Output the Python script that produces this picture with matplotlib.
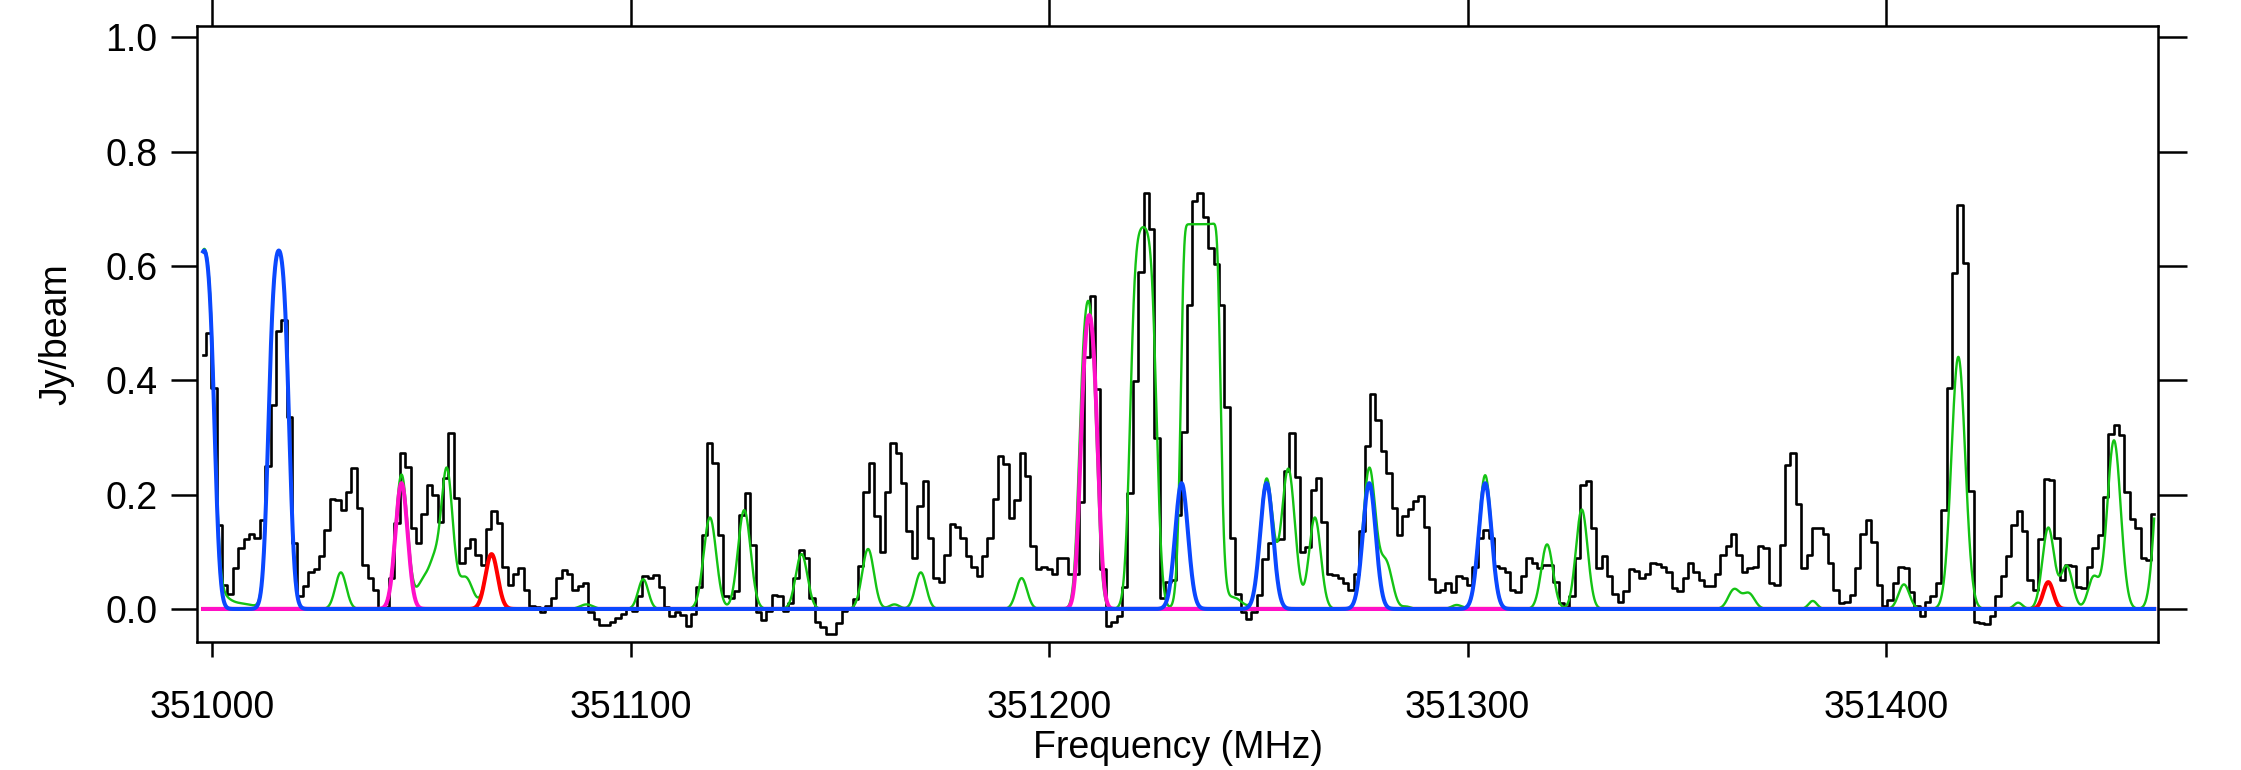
import numpy as np
import matplotlib
matplotlib.use("Agg")
import matplotlib.pyplot as plt

plt.rcParams["font.family"] = ["Liberation Sans", "DejaVu Sans"]

# -----------------------------
# Observed spectrum (one value per channel, Jy/beam)
# -----------------------------
freq_start = 350997.77   # MHz, centre of first channel
chan_width = 1.2882      # MHz

flux = [
    0.444, 0.482, 0.386, 0.147, 0.042, 0.026, 0.071, 0.107, 0.122, 0.131,
    0.125, 0.156, 0.250, 0.357, 0.486, 0.506, 0.336, 0.115, 0.023, 0.040,
    0.064, 0.070, 0.092, 0.138, 0.192, 0.191, 0.173, 0.204, 0.246, 0.177,
    0.077, 0.055, 0.033, 0.000, 0.003, 0.054, 0.150, 0.272, 0.248, 0.141,
    0.115, 0.167, 0.216, 0.199, 0.153, 0.229, 0.308, 0.194, 0.081, 0.107,
    0.122, 0.094, 0.077, 0.140, 0.171, 0.151, 0.074, 0.042, 0.062, 0.071,
    0.034, 0.006, 0.004, -0.006, 0.006, 0.020, 0.055, 0.069, 0.061, 0.033,
    0.040, 0.046, -0.005, -0.018, -0.028, -0.028, -0.022, -0.016, -0.008, 0.000,
    -0.003, 0.022, 0.057, 0.055, 0.059, 0.039, 0.004, -0.013, -0.006, -0.010,
    -0.030, -0.008, 0.039, 0.129, 0.290, 0.256, 0.129, 0.023, 0.019, 0.032,
    0.164, 0.202, 0.112, -0.006, -0.020, -0.003, 0.024, 0.022, -0.003, 0.010,
    0.054, 0.103, 0.090, 0.020, -0.022, -0.031, -0.044, -0.043, -0.025, -0.003,
    0.000, 0.017, 0.075, 0.204, 0.255, 0.162, 0.099, 0.205, 0.290, 0.272,
    0.220, 0.137, 0.090, 0.180, 0.223, 0.125, 0.054, 0.047, 0.094, 0.149,
    0.143, 0.124, 0.092, 0.074, 0.058, 0.092, 0.124, 0.192, 0.268, 0.254,
    0.159, 0.191, 0.272, 0.233, 0.110, 0.070, 0.073, 0.070, 0.061, 0.090,
    0.090, 0.061, 0.061, 0.187, 0.440, 0.548, 0.384, 0.070, -0.030, -0.022,
    -0.013, 0.038, 0.202, 0.399, 0.590, 0.728, 0.665, 0.299, 0.019, 0.048,
    0.050, 0.164, 0.310, 0.532, 0.714, 0.727, 0.686, 0.632, 0.603, 0.532,
    0.353, 0.124, 0.027, -0.005, -0.018, -0.005, 0.024, 0.087, 0.115, 0.120,
    0.122, 0.241, 0.307, 0.231, 0.100, 0.109, 0.208, 0.229, 0.152, 0.062,
    0.059, 0.054, 0.045, 0.034, 0.061, 0.136, 0.285, 0.376, 0.331, 0.276,
    0.238, 0.177, 0.129, 0.162, 0.175, 0.189, 0.198, 0.144, 0.052, 0.030,
    0.034, 0.046, 0.029, 0.057, 0.055, 0.042, 0.074, 0.125, 0.139, 0.124,
    0.075, 0.072, 0.065, 0.034, 0.029, 0.057, 0.089, 0.080, 0.071, 0.077,
    0.077, 0.048, 0.010, 0.004, 0.022, 0.089, 0.217, 0.224, 0.141, 0.071,
    0.093, 0.058, 0.026, 0.012, 0.032, 0.070, 0.066, 0.054, 0.062, 0.081,
    0.079, 0.074, 0.064, 0.036, 0.032, 0.055, 0.081, 0.065, 0.051, 0.040,
    0.040, 0.062, 0.094, 0.110, 0.132, 0.094, 0.065, 0.072, 0.073, 0.111,
    0.107, 0.045, 0.042, 0.112, 0.252, 0.272, 0.183, 0.071, 0.094, 0.142,
    0.142, 0.132, 0.081, 0.034, 0.010, 0.012, 0.024, 0.072, 0.131, 0.156,
    0.118, 0.042, 0.005, 0.016, 0.046, 0.074, 0.072, 0.030, 0.006, -0.012,
    0.012, 0.023, 0.046, 0.174, 0.386, 0.587, 0.707, 0.606, 0.207, -0.022,
    -0.024, -0.026, -0.013, 0.022, 0.057, 0.093, 0.147, 0.171, 0.136, 0.050,
    0.034, 0.122, 0.227, 0.226, 0.124, 0.050, 0.077, 0.076, 0.039, 0.037,
    0.074, 0.106, 0.129, 0.196, 0.306, 0.321, 0.304, 0.204, 0.157, 0.141,
    0.089, 0.086, 0.167,
]

# -----------------------------
# Model lines: centre (MHz), peak (Jy/beam), sigma (MHz), opacity
# -----------------------------
green_f0 = [350998.0, 351015.85, 351002.0, 351007.0, 351030.68, 351045.18,
            351050.5, 351053.0, 351056.0, 351060.5, 351066.7, 351089.4,
            351102.95, 351118.9, 351127.1, 351140.8, 351156.7, 351163.0,
            351169.3, 351193.4, 351209.3, 351222.5, 351236.2, 351244.0,
            351251.96, 351257.14, 351263.5, 351276.5, 351280.5, 351285.4,
            351297.4, 351304.2, 351319.0, 351327.3, 351363.7, 351367.2,
            351382.5, 351404.3, 351417.3, 351431.6, 351438.8, 351443.2,
            351449.6, 351454.5, 351465.8]
green_amp = [0.627, 0.627, 0.020, 0.009, 0.064, 0.235,
             0.050, 0.060, 0.243, 0.055, 0.096, 0.008,
             0.052, 0.160, 0.173, 0.096, 0.105, 0.008,
             0.064, 0.054, 0.539, 0.668, 0.673, 0.020,
             0.227, 0.245, 0.160, 0.245, 0.080, 0.004,
             0.007, 0.234, 0.113, 0.174, 0.034, 0.027,
             0.014, 0.043, 0.441, 0.011, 0.142, 0.075,
             0.055, 0.295, 0.300]
green_sig = [1.53, 1.53, 2.0, 3.0, 1.3, 1.45,
             1.6, 1.2, 1.4, 1.7, 1.45, 1.5,
             1.2, 1.5, 1.5, 1.4, 1.4, 1.2,
             1.3, 1.3, 1.44, 1.68, 1.7, 2.0,
             1.5, 1.6, 1.4, 1.5, 1.5, 1.0,
             1.2, 1.5, 1.4, 1.4, 1.4, 1.4,
             1.0, 1.3, 1.65, 1.0, 1.4, 1.4,
             1.3, 1.6, 1.5]
green_tau = [2.3, 2.3, 0.01, 0.01, 0.01, 0.01,
             0.01, 0.01, 0.01, 0.01, 0.01, 0.01,
             0.01, 0.01, 0.01, 0.01, 0.01, 0.01,
             0.01, 0.01, 1.5, 4.0, 40.0, 0.01,
             0.01, 0.01, 0.01, 0.01, 0.01, 0.01,
             0.01, 0.01, 0.01, 0.01, 0.01, 0.01,
             0.01, 0.01, 0.01, 0.01, 0.01, 0.01,
             0.01, 0.01, 0.01]

red_f0 = [351066.7, 351438.8]
red_amp = [0.096, 0.047]
red_sig = [1.45, 1.2]
red_tau = [0.01, 0.01]

magenta_f0 = [351045.18, 351209.56]
magenta_amp = [0.220, 0.514]
magenta_sig = [1.45, 1.44]
magenta_tau = [0.01, 1.5]

blue_f0 = [350998.0, 351015.85, 351231.64, 351251.96, 351276.5, 351304.2]
blue_amp = [0.627, 0.627, 0.220, 0.220, 0.220, 0.220]
blue_sig = [1.53, 1.53, 1.53, 1.53, 1.53, 1.53]
blue_tau = [2.3, 2.3, 0.01, 0.01, 0.01, 0.01]


def model(f, f0s, amps, sigs, taus):
    out = np.zeros_like(f)
    for f0, a, s, t in zip(f0s, amps, sigs, taus):
        g = np.exp(-0.5 * ((f - f0) / s) ** 2)
        out += a * (1 - np.exp(-t * g)) / (1 - np.exp(-t))
    return out


freqs = freq_start + chan_width * np.arange(len(flux))
fgrid = np.linspace(freqs[0], freqs[-1], 8000)

fig = plt.figure(figsize=(22.41, 7.70), dpi=100)
ax = fig.add_axes([0.08791, 0.16584, 0.87519, 0.80078])

ax.step(freqs, flux, where="mid", color="black", lw=1.9, zorder=2)
ax.plot(fgrid, model(fgrid, green_f0, green_amp, green_sig, green_tau),
        color="#14c314", lw=1.7, zorder=3)
ax.plot(fgrid, model(fgrid, red_f0, red_amp, red_sig, red_tau),
        color="#ff0000", lw=2.9, zorder=4)
ax.plot(fgrid, model(fgrid, magenta_f0, magenta_amp, magenta_sig, magenta_tau),
        color="#ff10c8", lw=2.9, zorder=5)
ax.plot(fgrid, model(fgrid, blue_f0, blue_amp, blue_sig, blue_tau),
        color="#0a48ff", lw=2.9, zorder=6)

ax.set_xlim(350996.3, 351465.1)
ax.set_ylim(-0.0583, 1.0203)

xticks = [351000, 351100, 351200, 351300, 351400]
yticks = [0.0, 0.2, 0.4, 0.6, 0.8, 1.0]
ax.set_xticks(xticks)
ax.set_xticklabels([str(t) for t in xticks])
ax.set_yticks(yticks)
ax.set_yticklabels([f"{t:.1f}" for t in yticks])

for sp in ax.spines.values():
    sp.set_linewidth(1.8)

ax.tick_params(axis="x", direction="out", length=11, width=1.8,
               pad=23, labelsize=27)
ax.tick_params(axis="y", direction="out", length=18.5, width=1.8,
               pad=10, labelsize=27)

# outward ticks on top and right, no labels
top = ax.secondary_xaxis("top")
top.set_xticks(xticks)
top.set_xticklabels([])
top.tick_params(direction="out", length=20, width=1.8)
right = ax.secondary_yaxis("right")
right.set_yticks(yticks)
right.set_yticklabels([])
right.tick_params(direction="out", length=20.6, width=1.8)

ax.set_xlabel("Frequency (MHz)", fontsize=27)
ax.xaxis.set_label_coords(0.5, -0.143)
ax.set_ylabel("Jy/beam", fontsize=27)
ax.yaxis.set_label_coords(-0.0627, 0.5)

fig.savefig("out.png", dpi=100)
